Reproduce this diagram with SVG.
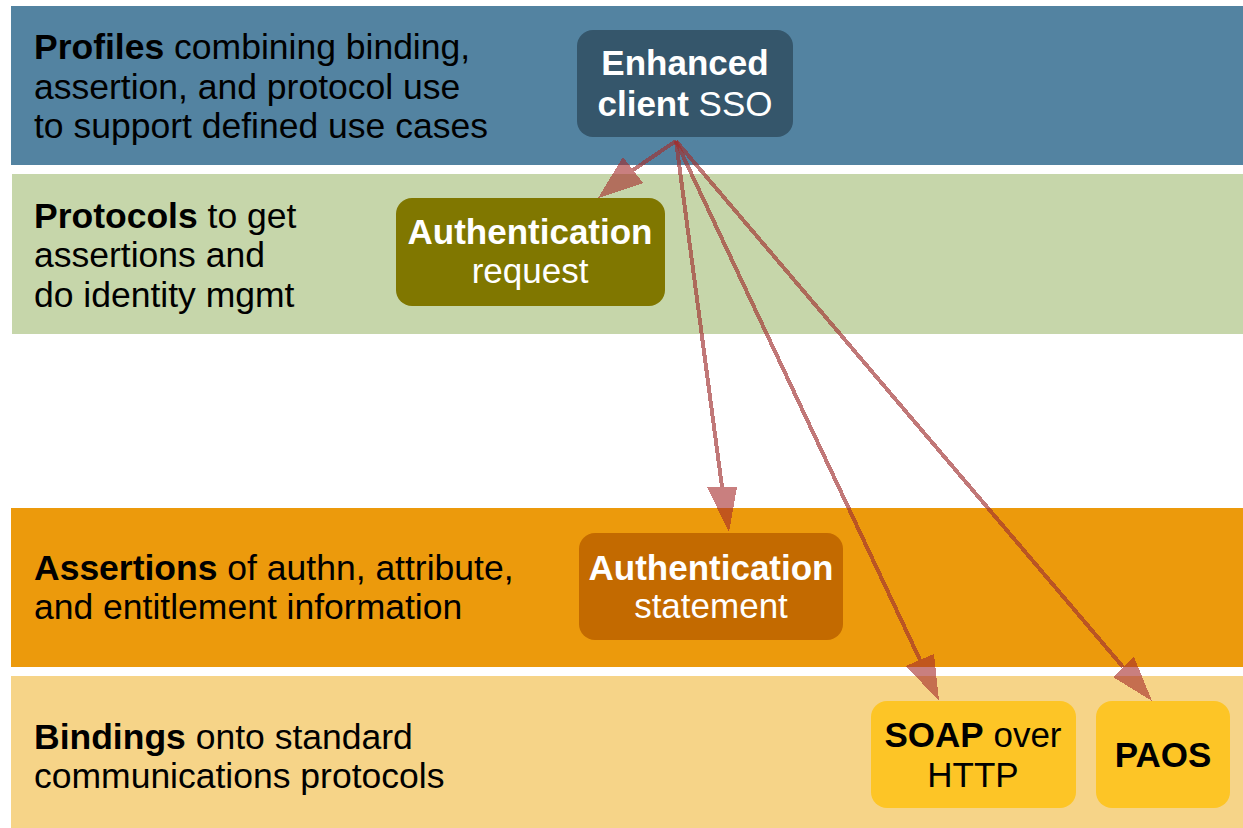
<svg xmlns="http://www.w3.org/2000/svg" width="1243" height="828" viewBox="0 0 1243 828">
  <style>
    text { font-family: "Liberation Sans", Arial, sans-serif; font-size: 35px; }
    .b { font-weight: bold; }
    .lbl { fill: #000; font-size: 35.5px; }
    .wt { fill: #fff; text-anchor: middle; }
    .bk { fill: #000; text-anchor: middle; }
    .conn line { stroke: #a03030; stroke-width: 4; stroke-opacity: 0.65; }
    .conn polygon { fill: #a52a2a; fill-opacity: 0.6; }
  </style>

  <rect width="1243" height="828" fill="#fff"/>

  <!-- layer bands -->
  <g id="band-profiles">
    <rect x="11" y="6" width="1232" height="159" fill="#5383a1"/>
    <text class="lbl" x="34" y="59"><tspan class="b">Profiles</tspan> combining binding,</text>
    <text class="lbl" x="34" y="99">assertion, and protocol use</text>
    <text class="lbl" x="34" y="138">to support defined use cases</text>
  </g>
  <g id="band-protocols">
    <rect x="12" y="174" width="1231" height="160" fill="#c6d6aa"/>
    <text class="lbl" x="34" y="228"><tspan class="b">Protocols</tspan> to get</text>
    <text class="lbl" x="34" y="267">assertions and</text>
    <text class="lbl" x="34" y="307">do identity mgmt</text>
  </g>
  <g id="band-assertions">
    <rect x="11" y="508" width="1232" height="159" fill="#ec9a0c"/>
    <text class="lbl" x="34" y="580"><tspan class="b">Assertions</tspan> of authn, attribute,</text>
    <text class="lbl" x="34" y="619">and entitlement information</text>
  </g>
  <g id="band-bindings">
    <rect x="11" y="676" width="1232" height="152" fill="#f6d488"/>
    <text class="lbl" x="34" y="749"><tspan class="b">Bindings</tspan> onto standard</text>
    <text class="lbl" x="34" y="788">communications protocols</text>
  </g>

  <!-- nodes -->
  <g id="node-ecp">
    <rect x="577" y="30" width="216" height="107" rx="16" fill="#35566b"/>
    <text class="wt b" x="685" y="75">Enhanced</text>
    <text class="wt" x="685" y="116"><tspan class="b">client</tspan> SSO</text>
  </g>
  <g id="node-authn-request">
    <rect x="396" y="198" width="269" height="108" rx="16" fill="#807700"/>
    <text class="wt b" x="530" y="244">Authentication</text>
    <text class="wt" x="530" y="283">request</text>
  </g>
  <g id="node-authn-statement">
    <rect x="579" y="533" width="264" height="107" rx="16" fill="#c36a00"/>
    <text class="wt b" x="711" y="580">Authentication</text>
    <text class="wt" x="711" y="618">statement</text>
  </g>
  <g id="node-soap">
    <rect x="871" y="701" width="205" height="107" rx="16" fill="#fdc526"/>
    <text class="bk" x="973" y="747"><tspan class="b">SOAP</tspan> over</text>
    <text class="bk" x="973" y="787">HTTP</text>
  </g>
  <g id="node-paos">
    <rect x="1096" y="701" width="134" height="107" rx="16" fill="#fdc526"/>
    <text class="bk b" x="1163" y="767">PAOS</text>
  </g>

  <!-- connectors: from Enhanced client SSO down to each layer -->
  <g id="connectors" class="conn" shape-rendering="crispEdges">
    <line x1="676" y1="141" x2="633" y2="170"/>
    <polygon points="598,198 623,157 643,183"/>

    <line x1="676" y1="141" x2="722" y2="487"/>
    <polygon points="729,532 707,487 737,487"/>

    <line x1="676" y1="141" x2="920" y2="660"/>
    <polygon points="939,701 906,666 934,654"/>

    <line x1="676" y1="141" x2="1123" y2="667"/>
    <polygon points="1152,701 1113,677 1134,657"/>
  </g>
</svg>
